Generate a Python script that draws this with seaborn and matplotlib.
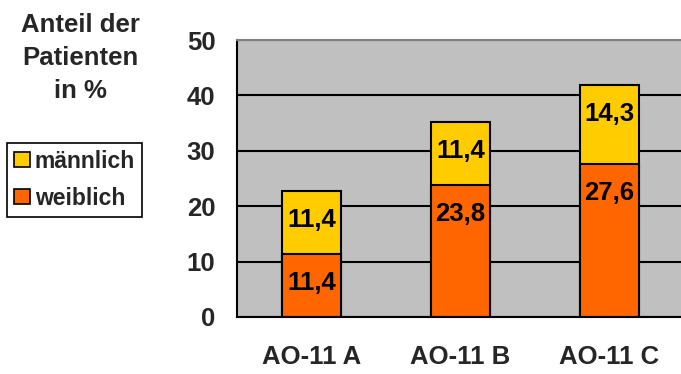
import matplotlib
matplotlib.use("Agg")
import matplotlib.pyplot as plt
import seaborn as sns
import pandas as pd
from matplotlib.patches import Patch

# Data
gruppen = ["AO-11 A", "AO-11 B", "AO-11 C"]
weiblich = [11.4, 23.8, 27.6]
maennlich = [11.4, 11.4, 14.3]
y_ticks = [0, 10, 20, 30, 40, 50]

df = pd.DataFrame({"gruppe": gruppen, "weiblich": weiblich, "maennlich": maennlich})
df["gesamt"] = df["weiblich"] + df["maennlich"]

sns.set_theme(style="white")
plt.rcParams["font.family"] = ["Liberation Sans", "DejaVu Sans"]
plt.rcParams["font.weight"] = "bold"

fig = plt.figure(figsize=(6.81, 3.74), dpi=100)
ax = fig.add_axes([237 / 681, 1 - 317 / 374, (684 - 237) / 681, (317 - 40) / 374])

GELB = "#FFCC00"
ORANGE = "#FF6600"
FS = 18.5

ax.set_facecolor("#C0C0C0")
ax.set_axisbelow(True)
ax.yaxis.grid(True, color="black", linewidth=1.5)

sns.barplot(data=df, x="gruppe", y="gesamt", color=GELB, width=0.4,
            edgecolor="black", linewidth=1.5, saturation=1, ax=ax)
sns.barplot(data=df, x="gruppe", y="weiblich", color=ORANGE, width=0.4,
            edgecolor="black", linewidth=1.5, saturation=1, ax=ax)

def fmt(v):
    return f"{v:.1f}".replace(".", ",")

for i, (w, m) in enumerate(zip(weiblich, maennlich)):
    ax.annotate(fmt(w), (i, w), xytext=(0, -21), textcoords="offset points",
                ha="center", va="center", fontsize=FS, fontweight="bold", color="black")
    ax.annotate(fmt(m), (i, w + m), xytext=(0, -21), textcoords="offset points",
                ha="center", va="center", fontsize=FS, fontweight="bold", color="black")

ax.set_xlim(-0.5, 2.5)
ax.set_ylim(0, 50)
ax.set_yticks(y_ticks)
ax.set_yticklabels([str(t) for t in y_ticks], fontsize=FS, fontweight="bold")
ax.set_xlabel("")
ax.set_ylabel("")

# category boundaries carry the tick marks; names sit centred below
ax.set_xticks([-0.5, 0.5, 1.5, 2.5])
ax.set_xticklabels([])
ax.set_xticks([0, 1, 2], minor=True)
ax.set_xticklabels(gruppen, minor=True, fontsize=FS, fontweight="bold")
ax.tick_params(axis="x", which="major", direction="out", length=4.5, width=1.5, color="black")
ax.tick_params(axis="x", which="minor", length=0, pad=20.5)
ax.tick_params(axis="y", direction="out", length=4.5, width=1.5, color="black", pad=11)

for s in ["left", "bottom"]:
    ax.spines[s].set_color("black")
    ax.spines[s].set_linewidth(1.5)
ax.spines["top"].set_color("#808080")
ax.spines["top"].set_linewidth(1.5)
ax.spines["right"].set_visible(False)

fig.text(80 / 681, 1 - 58 / 374, "Anteil der\nPatienten\nin %", ha="center", va="center",
         fontsize=FS, fontweight="bold", linespacing=1.45)

handles = [Patch(facecolor=GELB, edgecolor="black", linewidth=1.2, label="männlich"),
           Patch(facecolor=ORANGE, edgecolor="black", linewidth=1.2, label="weiblich")]
leg = fig.legend(handles=handles, loc="upper left", bbox_to_anchor=(7 / 681, 1 - 143 / 374),
                 frameon=True, fancybox=False, edgecolor="black", framealpha=1,
                 prop={"size": 16.5, "weight": "bold"}, handlelength=0.7, handleheight=0.65,
                 handletextpad=0.22, borderpad=0.3, labelspacing=0.6, borderaxespad=0)
leg.get_frame().set_linewidth(1.2)

fig.savefig("out.png", dpi=100)
